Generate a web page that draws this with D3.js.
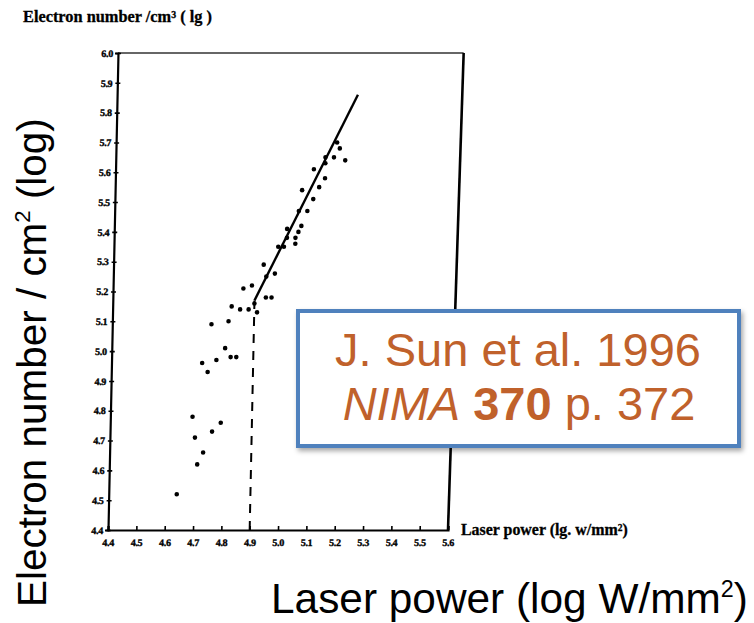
<!DOCTYPE html>
<html><head><meta charset="utf-8">
<script src="https://cdn.jsdelivr.net/npm/d3@7"></script>
<style>html,body{margin:0;padding:0;background:#fff;} svg{display:block}</style>
</head><body>
<svg id="chart" width="754" height="623"></svg>
<script>
// ---- data ----
const xTicks = [4.4,4.5,4.6,4.7,4.8,4.9,5.0,5.1,5.2,5.3,5.4,5.5,5.6];
const yTicks = [4.4,4.5,4.6,4.7,4.8,4.9,5.0,5.1,5.2,5.3,5.4,5.5,5.6,5.7,5.8,5.9,6.0];
const pointsX = [4.64,4.71,4.73,4.70,4.76,4.69,4.79,4.74,4.72,4.77,4.82,4.84,4.80,4.75,4.81,4.82,4.85,4.88,4.86,4.89,4.91,4.94,4.96,4.90,4.93,4.97,4.94,4.98,5.00,5.01,5.01,5.04,5.04,5.06,5.05,5.05,5.08,5.10,5.06,5.12,5.14,5.10,5.14,5.14,5.17,5.21,5.18,5.19];
const pointsY = [4.52,4.62,4.66,4.71,4.73,4.78,4.76,4.93,4.96,4.97,4.98,4.98,5.01,5.09,5.10,5.15,5.14,5.14,5.21,5.22,5.13,5.18,5.18,5.16,5.29,5.26,5.25,5.35,5.35,5.41,5.38,5.38,5.36,5.42,5.40,5.47,5.47,5.51,5.54,5.55,5.58,5.61,5.65,5.63,5.65,5.64,5.70,5.68];
const fitLineX = [4.9, 5.25];
const fitLineY = [5.17, 5.86];
const thresholdX = 4.9;
const thresholdY = 5.17;
const frameTopRightX = 5.62;

const svg = d3.select("#chart");
const x = d3.scaleLinear().domain([4.4, 5.6]).range([108, 448]);
const y = d3.scaleLinear().domain([4.4, 6.0]).range([530, 53]);

// drop shadow filter
const defs = svg.append("defs");
const f = defs.append("filter").attr("id","shadow").attr("x","-10%").attr("y","-10%").attr("width","130%").attr("height","140%");
f.append("feDropShadow").attr("dx",2).attr("dy",3).attr("stdDeviation",2.5).attr("flood-color","#000").attr("flood-opacity",0.35);

// skewed group to mimic the scanned figure
const g = svg.append("g").attr("transform","translate(108,530) skewX(-1.2) translate(-108,-530)");

const serif = "'Liberation Serif', 'DejaVu Serif', serif";

function fitW(sel, target, base){
  const w = sel.node().getComputedTextLength();
  const k = target / w;
  sel.attr("font-size", base * k);
  sel.selectAll("tspan").each(function(){
    const fs = d3.select(this).attr("font-size");
    if (fs) d3.select(this).attr("font-size", +fs * k);
  });
}

// frame (top and right)
g.append("line").attr("x1", x(4.4)).attr("y1", y(6.0)).attr("x2", x(frameTopRightX)).attr("y2", y(6.0))
  .attr("stroke","#333").attr("stroke-width",1.5);
g.append("line").attr("x1", x(5.6)).attr("y1", y(4.4)).attr("x2", x(frameTopRightX)).attr("y2", y(6.0))
  .attr("stroke","#000").attr("stroke-width",2.6);

// axes
const xAxis = d3.axisBottom(x).tickValues(xTicks).tickSize(-4).tickPadding(9).tickFormat(d3.format(".1f"));
const yAxis = d3.axisLeft(y).tickValues(yTicks).tickSize(3).tickPadding(2).tickFormat(d3.format(".1f"));
const gx = g.append("g").attr("transform",`translate(0,${y(4.4)})`).call(xAxis);
const gy = g.append("g").attr("transform",`translate(${x(4.4)},0)`).call(yAxis);
[gx, gy].forEach(a => {
  a.select(".domain").attr("stroke","#000").attr("stroke-width",2.2);
  a.selectAll(".tick line").attr("stroke","#000").attr("stroke-width",1.6);
  a.selectAll(".tick text").attr("font-family", serif).attr("font-weight","bold")
    .attr("font-size", 10).attr("fill","#000").attr("letter-spacing", -0.3)
    .attr("stroke","#000").attr("stroke-width",0.35);
});
gy.selectAll(".tick line").attr("x2", 3).attr("x1",-2);

// dashed threshold line
g.append("line").attr("x1", x(thresholdX)).attr("y1", y(4.4)).attr("x2", x(thresholdX)).attr("y2", y(thresholdY))
  .attr("stroke","#000").attr("stroke-width",2).attr("stroke-dasharray","9,8");

// fit line
g.append("line").attr("x1", x(fitLineX[0])).attr("y1", y(fitLineY[0])).attr("x2", x(fitLineX[1])).attr("y2", y(fitLineY[1]))
  .attr("stroke","#000").attr("stroke-width",2.4);

// points
g.selectAll("circle.pt").data(pointsX.map((d,i)=>[d, pointsY[i]])).enter().append("circle")
  .attr("class","pt").attr("cx", d=>x(d[0])).attr("cy", d=>y(d[1])).attr("r", 2.3).attr("fill","#000");

// small scanned axis titles
const t1 = svg.append("text").attr("x", 23).attr("y", 22).attr("font-family", serif).attr("font-weight","bold")
  .attr("font-size", 10).attr("fill","#000").attr("stroke","#000").attr("stroke-width",0.3);
t1.append("tspan").text("Electron number /cm");
t1.append("tspan").attr("font-size",6).attr("dy",-4).text("3");
t1.append("tspan").attr("dy",4).text(" ( lg )");
fitW(t1, 189, 10);

const t2 = svg.append("text").attr("x", 461).attr("y", 535).attr("font-family", serif).attr("font-weight","bold")
  .attr("font-size", 10).attr("fill","#000").attr("stroke","#000").attr("stroke-width",0.3);
t2.append("tspan").text("Laser power (lg. w/mm");
t2.append("tspan").attr("font-size",6).attr("dy",-4).text("2");
t2.append("tspan").attr("dy",4).text(")");
fitW(t2, 167, 10);

// big labels
const sans = "'Liberation Sans', Arial, Helvetica, sans-serif";
const yl = svg.append("text").attr("transform","translate(46,607) rotate(-90)")
  .attr("font-family", sans).attr("font-size", 40).attr("fill","#000");
yl.append("tspan").text("Electron number / cm");
yl.append("tspan").attr("font-size", 22).attr("dy",-16).text("2");
yl.append("tspan").attr("dy",16).text(" (log)");
fitW(yl, 489, 40);

const xl = svg.append("text").attr("x", 271).attr("y", 613)
  .attr("font-family", sans).attr("font-size", 40).attr("fill","#000");
xl.append("tspan").text("Laser power (log W/mm");
xl.append("tspan").attr("font-size", 22).attr("dy",-16).text("2");
xl.append("tspan").attr("dy",16).text(")");
fitW(xl, 477, 40);

// citation box
const bx = svg.append("g");
bx.append("rect").attr("x", 298).attr("y", 311).attr("width", 441).attr("height", 135)
  .attr("fill","#fff").attr("stroke","#4f81bd").attr("stroke-width",4).attr("filter","url(#shadow)");
const orange = "#c0612b";
bx.append("text").attr("x", 518).attr("y", 366).attr("text-anchor","middle")
  .attr("font-family", sans).attr("font-size", 47).attr("fill", orange).text("J. Sun et al. 1996");
const l2 = bx.append("text").attr("x", 519).attr("y", 420).attr("text-anchor","middle")
  .attr("font-family", sans).attr("font-size", 47).attr("fill", orange);
l2.append("tspan").attr("font-style","italic").text("NIMA");
l2.append("tspan").text(" ");
l2.append("tspan").attr("font-weight","bold").text("370");
l2.append("tspan").text(" p. 372");
</script>
</body></html>
